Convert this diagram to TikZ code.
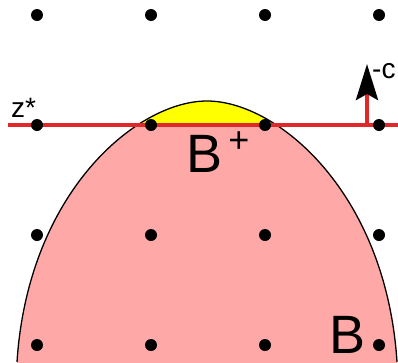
\documentclass[tikz,border=0pt]{standalone}
\usepackage{fontspec}
\setmainfont{Liberation Sans}
\usetikzlibrary{arrows.meta}
\definecolor{pinkfill}{HTML}{FFA8A8}
\definecolor{yel}{HTML}{FFFF00}
\definecolor{redline}{HTML}{E0282A}
\tikzset{
  dot/.style={circle,fill=black,inner sep=0pt,minimum size=12pt},
  biglabel/.style={inner sep=0pt,anchor=base west,font=\fontsize{54}{54}\selectfont},
  smalllabel/.style={inner sep=0pt,anchor=base west,font=\fontsize{28}{28}\selectfont},
  redl/.style={draw=redline,line width=4pt},
}
\begin{document}
\begin{tikzpicture}[x=1pt,y=-1pt]
\useasboundingbox (0,0) rectangle (398,362);
\clip (0,0) rectangle (398,362);
\def\blob{(17,372) -- (17,362) .. controls (28,192) and (137,101) .. (207,101) .. controls (277,101) and (386,192) .. (397,362) -- (397,372) -- cycle}
\fill[pinkfill] \blob;
\begin{scope}
  \clip (0,0) rectangle (398,125);
  \fill[yel] \blob;
\end{scope}
\draw[line width=1.3pt] (17,362) .. controls (28,192) and (137,101) .. (207,101) .. controls (277,101) and (386,192) .. (397,362);
% red line and arrow
\coordinate (L) at (8,125);
\coordinate (R) at (400,125);
\coordinate (A0) at (367,125);
\coordinate (A1) at (367,64);
\draw[redl] (L) -- (R);
\draw[redl,-{Stealth[black,length=36pt,width=22pt,inset=6pt]}] (A0) -- (A1);
% dots
\foreach \i/\x in {1/37,2/151,3/265,4/379}{
  \foreach \j/\y in {1/15,2/125,3/235,4/345}{
    \node[dot] (d\i\j) at (\x,\y) {};
  }
}
% labels
\node[biglabel] (Bplus) at (186,172) {B};
\node[inner sep=0pt,font=\fontsize{36}{36}\selectfont] (plus) at (239,142) {+};
\node[biglabel] (B) at (329,353) {B};
\node[smalllabel] (z) at (11,117) {z*};
\node[smalllabel] (c) at (372,78) {-c};
\end{tikzpicture}
\end{document}
